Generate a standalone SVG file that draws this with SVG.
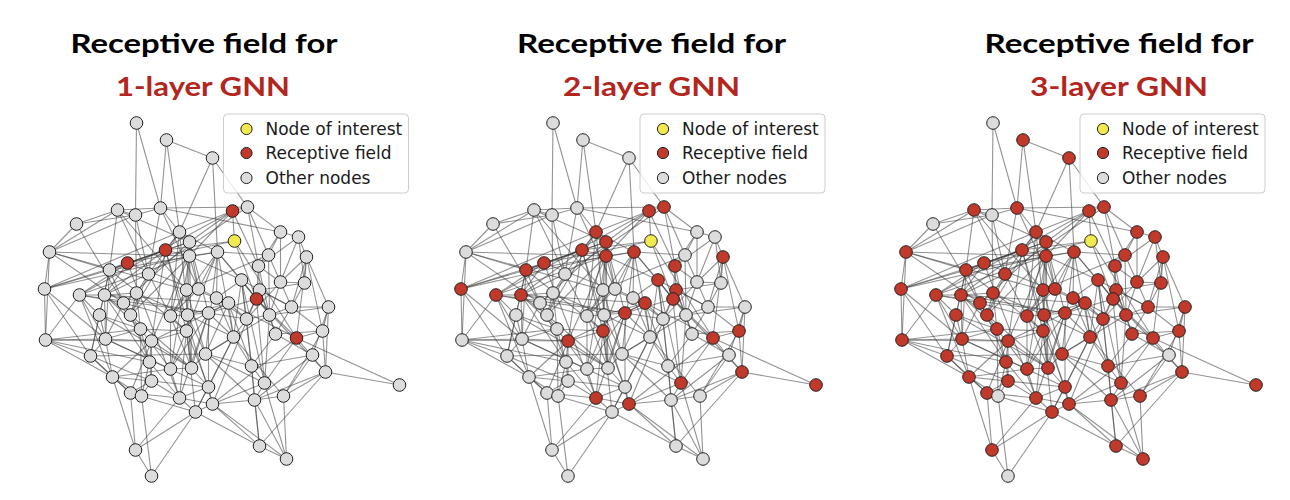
<svg xmlns="http://www.w3.org/2000/svg" xmlns:xlink="http://www.w3.org/1999/xlink" width="1290" height="500" viewBox="0 0 1290 500">
<style>
.t1{font-family:Lato,"Liberation Sans",sans-serif;font-weight:bold;font-size:27px;fill:#000;text-anchor:middle}
.t2{font-family:Lato,"Liberation Sans",sans-serif;font-weight:bold;font-size:27px;fill:#b3261e;text-anchor:middle}
.lg{font-family:"DejaVu Sans",sans-serif;font-size:17px;fill:#1a1a1a}
.g{fill:#dcdcdc;stroke:#222;stroke-width:1}
.r{fill:#c0392b;stroke:#222;stroke-width:1}
.y{fill:#f2e94e;stroke:#222;stroke-width:1}
.box{fill:#fff;fill-opacity:0.8;stroke:#cccccc;stroke-width:1}
</style>
<defs>
<g id="edges" fill="none" stroke="#3a3a3a" stroke-opacity="0.55" stroke-width="1.1">
<path d="M651 241 649 211"/><path d="M651 241 582 250"/><path d="M651 241 544 263"/><path d="M651 241 673 299"/><path d="M651 241 713 338"/>
<path d="M649 211 664 207"/><path d="M649 211 596 232"/><path d="M649 211 606 242"/><path d="M649 211 606 256"/><path d="M649 211 675 266"/><path d="M649 211 496 295"/>
<path d="M582 250 596 232"/><path d="M582 250 606 256"/><path d="M582 250 526 270"/><path d="M582 250 521 295"/><path d="M582 250 568 341"/><path d="M582 250 603 331"/><path d="M582 250 629 404"/>
<path d="M544 263 526 270"/><path d="M544 263 461 289"/><path d="M544 263 496 295"/><path d="M544 263 521 295"/><path d="M544 263 606 242"/><path d="M544 263 645 303"/><path d="M544 263 596 398"/>
<path d="M673 299 676 290"/><path d="M673 299 658 280"/><path d="M673 299 675 266"/><path d="M673 299 742 372"/><path d="M673 299 681 383"/><path d="M673 299 625 313"/><path d="M673 299 634 252"/>
<path d="M713 338 739 331"/><path d="M713 338 742 372"/><path d="M713 338 816 385"/><path d="M713 338 723 257"/><path d="M713 338 681 383"/><path d="M713 338 629 404"/><path d="M713 338 645 303"/>
<path d="M582 250 544 263"/><path d="M673 299 713 338"/>
<path d="M664 207 629 158"/><path d="M664 207 697 232"/><path d="M664 207 685 255"/><path d="M664 207 577 208"/>
<path d="M596 232 583 140"/><path d="M596 232 577 208"/><path d="M596 232 629 158"/><path d="M596 232 565 274"/><path d="M596 232 604 315"/><path d="M596 232 547 315"/>
<path d="M606 242 534 210"/><path d="M606 242 603 290"/><path d="M606 242 587 316"/><path d="M606 242 608 368"/>
<path d="M606 256 615 289"/><path d="M606 256 587 369"/><path d="M606 256 466 252"/>
<path d="M634 252 629 158"/><path d="M634 252 685 255"/><path d="M634 252 633 298"/><path d="M634 252 622 354"/><path d="M634 252 650 337"/>
<path d="M723 257 715 237"/><path d="M723 257 721 283"/><path d="M723 257 697 282"/><path d="M723 257 745 307"/>
<path d="M526 270 534 210"/><path d="M526 270 466 252"/><path d="M526 270 516 315"/><path d="M526 270 522 339"/>
<path d="M675 266 697 282"/><path d="M675 266 685 255"/><path d="M675 266 686 315"/><path d="M675 266 697 232"/>
<path d="M658 280 663 319"/><path d="M658 280 633 298"/><path d="M658 280 668 366"/><path d="M658 280 708 307"/>
<path d="M461 289 466 252"/><path d="M461 289 462 340"/><path d="M461 289 526 270"/><path d="M461 289 507 356"/>
<path d="M496 295 516 315"/><path d="M496 295 540 303"/><path d="M496 295 529 377"/>
<path d="M521 295 553 293"/><path d="M521 295 557 329"/><path d="M521 295 547 315"/><path d="M521 295 566 362"/>
<path d="M676 290 721 283"/><path d="M676 290 708 307"/><path d="M676 290 692 334"/><path d="M676 290 663 319"/>
<path d="M645 303 615 289"/><path d="M645 303 604 315"/><path d="M645 303 650 337"/><path d="M645 303 622 354"/>
<path d="M625 313 587 316"/><path d="M625 313 587 369"/><path d="M625 313 625 387"/><path d="M625 313 663 319"/>
<path d="M568 341 522 339"/><path d="M568 341 566 362"/><path d="M568 341 568 381"/><path d="M568 341 608 368"/><path d="M568 341 462 340"/>
<path d="M603 331 557 329"/><path d="M603 331 587 369"/><path d="M603 331 608 368"/><path d="M603 331 625 387"/><path d="M603 331 612 412"/>
<path d="M739 331 745 307"/><path d="M739 331 692 334"/><path d="M739 331 700 396"/>
<path d="M742 372 816 385"/><path d="M742 372 745 307"/><path d="M742 372 676 446"/><path d="M742 372 671 400"/>
<path d="M681 383 703 459"/><path d="M681 383 671 400"/><path d="M681 383 668 366"/><path d="M681 383 622 354"/>
<path d="M596 398 552 450"/><path d="M596 398 568 381"/><path d="M596 398 612 412"/><path d="M596 398 587 369"/><path d="M596 398 547 393"/>
<path d="M629 404 612 412"/><path d="M629 404 671 400"/><path d="M629 404 625 387"/>
<path d="M596 232 606 242"/><path d="M606 256 634 252"/><path d="M496 295 521 295"/><path d="M675 266 676 290"/><path d="M625 313 645 303"/><path d="M568 341 603 331"/><path d="M742 372 739 331"/><path d="M681 383 629 404"/><path d="M596 398 629 404"/><path d="M606 242 625 313"/><path d="M634 252 658 280"/><path d="M723 257 739 331"/><path d="M603 331 596 398"/><path d="M664 207 675 266"/>
<path d="M583 140 629 158"/><path d="M534 210 552 215"/><path d="M534 210 493 224"/><path d="M534 210 565 274"/><path d="M697 232 715 237"/><path d="M697 232 685 255"/><path d="M715 237 697 282"/><path d="M466 252 552 215"/><path d="M466 252 493 224"/><path d="M565 274 552 215"/><path d="M565 274 553 293"/><path d="M697 282 721 283"/><path d="M553 293 547 315"/><path d="M553 293 552 215"/><path d="M603 290 615 289"/><path d="M603 290 587 316"/><path d="M540 303 547 315"/><path d="M540 303 522 339"/><path d="M516 315 507 356"/><path d="M516 315 522 339"/><path d="M547 315 493 224"/><path d="M547 315 557 329"/><path d="M587 316 587 369"/><path d="M604 315 608 368"/><path d="M663 319 686 315"/><path d="M686 315 692 334"/><path d="M686 315 708 307"/><path d="M708 307 745 307"/><path d="M745 307 729 355"/><path d="M462 340 507 356"/><path d="M462 340 529 377"/><path d="M462 340 522 339"/><path d="M522 339 507 356"/><path d="M522 339 529 377"/><path d="M557 329 566 362"/><path d="M557 329 558 396"/><path d="M650 337 622 354"/><path d="M650 337 668 366"/><path d="M692 334 729 355"/><path d="M507 356 529 377"/><path d="M566 362 568 381"/><path d="M566 362 558 396"/><path d="M608 368 622 354"/><path d="M668 366 729 355"/><path d="M529 377 552 450"/><path d="M529 377 547 393"/><path d="M529 377 558 396"/><path d="M568 381 558 396"/><path d="M568 381 547 393"/><path d="M625 387 612 412"/><path d="M547 393 552 450"/><path d="M547 393 558 396"/><path d="M671 400 676 446"/><path d="M671 400 700 396"/><path d="M671 400 729 355"/><path d="M700 396 703 459"/><path d="M700 396 729 355"/><path d="M612 412 552 450"/><path d="M612 412 568 476"/><path d="M612 412 676 446"/><path d="M552 450 568 476"/><path d="M676 446 703 459"/><path d="M553 123 552 215"/><path d="M553 123 577 208"/><path d="M552 215 577 208"/><path d="M558 396 568 476"/><path d="M493 224 552 215"/><path d="M466 252 534 210"/>
<path d="M697 232 697 282"/><path d="M685 255 686 315"/><path d="M603 290 604 315"/><path d="M615 289 587 316"/><path d="M633 298 663 319"/><path d="M540 303 553 293"/><path d="M547 315 566 362"/><path d="M604 315 622 354"/><path d="M663 319 650 337"/><path d="M708 307 692 334"/><path d="M522 339 557 329"/><path d="M557 329 587 369"/><path d="M650 337 625 387"/><path d="M692 334 668 366"/><path d="M507 356 547 393"/><path d="M587 369 608 368"/><path d="M608 368 625 387"/><path d="M668 366 671 400"/><path d="M671 400 703 459"/><path d="M583 140 577 208"/><path d="M534 210 577 208"/><path d="M577 208 565 274"/><path d="M466 252 462 340"/><path d="M697 282 686 315"/><path d="M721 283 708 307"/><path d="M553 293 557 329"/><path d="M565 274 547 315"/><path d="M622 354 668 366"/><path d="M587 316 608 368"/><path d="M604 315 650 337"/>
<path d="M596 232 587 316"/><path d="M606 242 615 289"/><path d="M606 256 604 315"/><path d="M634 252 615 289"/><path d="M526 270 540 303"/><path d="M461 289 522 339"/><path d="M496 295 522 339"/><path d="M521 295 565 274"/><path d="M645 303 663 319"/><path d="M625 313 650 337"/><path d="M568 341 547 393"/><path d="M603 331 587 316"/><path d="M739 331 708 307"/><path d="M681 383 686 315"/><path d="M596 398 625 387"/><path d="M629 404 703 459"/><path d="M675 266 715 237"/><path d="M658 280 650 337"/><path d="M676 290 686 315"/><path d="M723 257 708 307"/>
<path d="M526 270 634 252"/><path d="M496 295 625 313"/><path d="M521 295 645 303"/><path d="M461 289 606 256"/><path d="M516 315 608 368"/><path d="M507 356 622 354"/><path d="M522 339 625 387"/><path d="M529 377 587 369"/><path d="M466 252 603 290"/><path d="M462 340 557 329"/><path d="M658 280 606 256"/><path d="M650 337 612 412"/><path d="M668 366 676 446"/><path d="M686 315 622 354"/><path d="M685 255 603 290"/><path d="M697 282 663 319"/><path d="M715 237 721 283"/><path d="M697 232 577 208"/>
<path d="M526 270 606 242"/><path d="M496 295 606 256"/><path d="M521 295 625 313"/><path d="M461 289 596 232"/><path d="M568 341 645 303"/><path d="M603 331 634 252"/><path d="M596 398 625 313"/><path d="M629 404 676 290"/><path d="M681 383 658 280"/><path d="M526 270 603 331"/><path d="M596 232 634 252"/><path d="M606 256 568 341"/>
<path d="M534 210 603 290"/><path d="M577 208 615 289"/><path d="M565 274 587 316"/><path d="M466 252 540 303"/><path d="M516 315 557 329"/><path d="M462 340 566 362"/><path d="M507 356 568 381"/><path d="M547 315 608 368"/><path d="M553 293 604 315"/><path d="M522 339 587 369"/><path d="M529 377 625 387"/><path d="M547 393 612 412"/><path d="M650 337 700 396"/><path d="M622 354 671 400"/><path d="M663 319 668 366"/><path d="M686 315 745 307"/><path d="M697 282 708 307"/><path d="M540 303 587 316"/><path d="M633 298 650 337"/><path d="M685 255 697 282"/><path d="M603 290 622 354"/>
<path d="M606 242 540 303"/><path d="M634 252 587 316"/><path d="M625 313 608 368"/><path d="M521 295 522 339"/><path d="M568 341 529 377"/><path d="M596 398 566 362"/><path d="M645 303 668 366"/><path d="M658 280 686 315"/><path d="M664 207 565 274"/><path d="M606 256 547 315"/><path d="M526 270 507 356"/><path d="M496 295 462 340"/><path d="M629 404 676 446"/><path d="M742 372 700 396"/>
</g>
<g id="legend">
<rect class="box" x="640" y="114" width="185" height="79" rx="4"/>
<circle class="y" cx="663" cy="129" r="5.6"/>
<circle class="r" cx="663" cy="153" r="5.6"/>
<circle class="g" cx="663" cy="178" r="5.6"/>
<text class="lg" x="682" y="134.5">Node of interest</text>
<text class="lg" x="682" y="158.5">Receptive field</text>
<text class="lg" x="682" y="183.5">Other nodes</text>
</g>
</defs>
<rect width="1290" height="500" fill="#fff"/>
<g id="titles">
<text class="t1" x="204" y="53" textLength="267" lengthAdjust="spacingAndGlyphs">Receptive field for</text>
<text class="t2" x="203" y="96" textLength="174" lengthAdjust="spacingAndGlyphs">1-layer GNN</text>
<text class="t1" x="651.5" y="53" textLength="269" lengthAdjust="spacingAndGlyphs">Receptive field for</text>
<text class="t2" x="651.5" y="96" textLength="177" lengthAdjust="spacingAndGlyphs">2-layer GNN</text>
<text class="t1" x="1119" y="53" textLength="269" lengthAdjust="spacingAndGlyphs">Receptive field for</text>
<text class="t2" x="1119" y="96" textLength="178" lengthAdjust="spacingAndGlyphs">3-layer GNN</text>
</g>
<g id="connectors">
<use xlink:href="#edges" href="#edges" transform="translate(-416.5 0)"/>
<use xlink:href="#edges" href="#edges"/>
<use xlink:href="#edges" href="#edges" transform="translate(440 0)"/>
</g>
<g id="panel1" transform="translate(-416.5 0)">
<g id="p1-n1"><circle class="g" cx="553" cy="123" r="6.3"/></g><g id="p1-n2"><circle class="g" cx="583" cy="140" r="6.3"/></g><g id="p1-n3"><circle class="g" cx="629" cy="158" r="6.3"/></g><g id="p1-n4"><circle class="g" cx="534" cy="210" r="6.3"/></g><g id="p1-n5"><circle class="g" cx="552" cy="215" r="6.3"/></g><g id="p1-n6"><circle class="g" cx="577" cy="208" r="6.3"/></g><g id="p1-n7"><circle class="g" cx="493" cy="224" r="6.3"/></g><g id="p1-n8"><circle class="r" cx="649" cy="211" r="6.3"/></g><g id="p1-n9"><circle class="g" cx="664" cy="207" r="6.3"/></g><g id="p1-n10"><circle class="g" cx="596" cy="232" r="6.3"/></g>
<g id="p1-n11"><circle class="g" cx="606" cy="242" r="6.3"/></g><g id="p1-n12"><circle class="r" cx="582" cy="250" r="6.3"/></g><g id="p1-n13"><circle class="g" cx="606" cy="256" r="6.3"/></g><g id="p1-n14"><circle class="g" cx="634" cy="252" r="6.3"/></g><g id="p1-n15"><circle class="y" cx="651" cy="241" r="6.3"/></g><g id="p1-n16"><circle class="g" cx="697" cy="232" r="6.3"/></g><g id="p1-n17"><circle class="g" cx="715" cy="237" r="6.3"/></g><g id="p1-n18"><circle class="g" cx="685" cy="255" r="6.3"/></g><g id="p1-n19"><circle class="g" cx="723" cy="257" r="6.3"/></g><g id="p1-n20"><circle class="g" cx="466" cy="252" r="6.3"/></g>
<g id="p1-n21"><circle class="r" cx="544" cy="263" r="6.3"/></g><g id="p1-n22"><circle class="g" cx="526" cy="270" r="6.3"/></g><g id="p1-n23"><circle class="g" cx="565" cy="274" r="6.3"/></g><g id="p1-n24"><circle class="g" cx="675" cy="266" r="6.3"/></g><g id="p1-n25"><circle class="g" cx="658" cy="280" r="6.3"/></g><g id="p1-n26"><circle class="g" cx="697" cy="282" r="6.3"/></g><g id="p1-n27"><circle class="g" cx="721" cy="283" r="6.3"/></g><g id="p1-n28"><circle class="g" cx="461" cy="289" r="6.3"/></g><g id="p1-n29"><circle class="g" cx="496" cy="295" r="6.3"/></g><g id="p1-n30"><circle class="g" cx="521" cy="295" r="6.3"/></g>
<g id="p1-n31"><circle class="g" cx="553" cy="293" r="6.3"/></g><g id="p1-n32"><circle class="g" cx="603" cy="290" r="6.3"/></g><g id="p1-n33"><circle class="g" cx="615" cy="289" r="6.3"/></g><g id="p1-n34"><circle class="g" cx="633" cy="298" r="6.3"/></g><g id="p1-n35"><circle class="g" cx="676" cy="290" r="6.3"/></g><g id="p1-n36"><circle class="r" cx="673" cy="299" r="6.3"/></g><g id="p1-n37"><circle class="g" cx="645" cy="303" r="6.3"/></g><g id="p1-n38"><circle class="g" cx="540" cy="303" r="6.3"/></g><g id="p1-n39"><circle class="g" cx="516" cy="315" r="6.3"/></g><g id="p1-n40"><circle class="g" cx="547" cy="315" r="6.3"/></g>
<g id="p1-n41"><circle class="g" cx="587" cy="316" r="6.3"/></g><g id="p1-n42"><circle class="g" cx="604" cy="315" r="6.3"/></g><g id="p1-n43"><circle class="g" cx="625" cy="313" r="6.3"/></g><g id="p1-n44"><circle class="g" cx="663" cy="319" r="6.3"/></g><g id="p1-n45"><circle class="g" cx="686" cy="315" r="6.3"/></g><g id="p1-n46"><circle class="g" cx="708" cy="307" r="6.3"/></g><g id="p1-n47"><circle class="g" cx="745" cy="307" r="6.3"/></g><g id="p1-n48"><circle class="g" cx="462" cy="340" r="6.3"/></g><g id="p1-n49"><circle class="g" cx="522" cy="339" r="6.3"/></g><g id="p1-n50"><circle class="g" cx="557" cy="329" r="6.3"/></g>
<g id="p1-n51"><circle class="g" cx="568" cy="341" r="6.3"/></g><g id="p1-n52"><circle class="g" cx="603" cy="331" r="6.3"/></g><g id="p1-n53"><circle class="g" cx="650" cy="337" r="6.3"/></g><g id="p1-n54"><circle class="g" cx="692" cy="334" r="6.3"/></g><g id="p1-n55"><circle class="r" cx="713" cy="338" r="6.3"/></g><g id="p1-n56"><circle class="g" cx="739" cy="331" r="6.3"/></g><g id="p1-n57"><circle class="g" cx="507" cy="356" r="6.3"/></g><g id="p1-n58"><circle class="g" cx="566" cy="362" r="6.3"/></g><g id="p1-n59"><circle class="g" cx="587" cy="369" r="6.3"/></g><g id="p1-n60"><circle class="g" cx="608" cy="368" r="6.3"/></g>
<g id="p1-n61"><circle class="g" cx="622" cy="354" r="6.3"/></g><g id="p1-n62"><circle class="g" cx="668" cy="366" r="6.3"/></g><g id="p1-n63"><circle class="g" cx="729" cy="355" r="6.3"/></g><g id="p1-n64"><circle class="g" cx="742" cy="372" r="6.3"/></g><g id="p1-n65"><circle class="g" cx="816" cy="385" r="6.3"/></g><g id="p1-n66"><circle class="g" cx="529" cy="377" r="6.3"/></g><g id="p1-n67"><circle class="g" cx="568" cy="381" r="6.3"/></g><g id="p1-n68"><circle class="g" cx="625" cy="387" r="6.3"/></g><g id="p1-n69"><circle class="g" cx="681" cy="383" r="6.3"/></g><g id="p1-n70"><circle class="g" cx="547" cy="393" r="6.3"/></g>
<g id="p1-n71"><circle class="g" cx="558" cy="396" r="6.3"/></g><g id="p1-n72"><circle class="g" cx="596" cy="398" r="6.3"/></g><g id="p1-n73"><circle class="g" cx="629" cy="404" r="6.3"/></g><g id="p1-n74"><circle class="g" cx="671" cy="400" r="6.3"/></g><g id="p1-n75"><circle class="g" cx="700" cy="396" r="6.3"/></g><g id="p1-n76"><circle class="g" cx="612" cy="412" r="6.3"/></g><g id="p1-n77"><circle class="g" cx="552" cy="450" r="6.3"/></g><g id="p1-n78"><circle class="g" cx="568" cy="476" r="6.3"/></g><g id="p1-n79"><circle class="g" cx="676" cy="446" r="6.3"/></g><g id="p1-n80"><circle class="g" cx="703" cy="459" r="6.3"/></g>
<use xlink:href="#legend" href="#legend"/>
</g>
<g id="panel2">
<g id="p2-n1"><circle class="g" cx="553" cy="123" r="6.3"/></g><g id="p2-n2"><circle class="g" cx="583" cy="140" r="6.3"/></g><g id="p2-n3"><circle class="g" cx="629" cy="158" r="6.3"/></g><g id="p2-n4"><circle class="g" cx="534" cy="210" r="6.3"/></g><g id="p2-n5"><circle class="g" cx="552" cy="215" r="6.3"/></g><g id="p2-n6"><circle class="g" cx="577" cy="208" r="6.3"/></g><g id="p2-n7"><circle class="g" cx="493" cy="224" r="6.3"/></g><g id="p2-n8"><circle class="r" cx="649" cy="211" r="6.3"/></g><g id="p2-n9"><circle class="r" cx="664" cy="207" r="6.3"/></g><g id="p2-n10"><circle class="r" cx="596" cy="232" r="6.3"/></g>
<g id="p2-n11"><circle class="r" cx="606" cy="242" r="6.3"/></g><g id="p2-n12"><circle class="r" cx="582" cy="250" r="6.3"/></g><g id="p2-n13"><circle class="r" cx="606" cy="256" r="6.3"/></g><g id="p2-n14"><circle class="r" cx="634" cy="252" r="6.3"/></g><g id="p2-n15"><circle class="y" cx="651" cy="241" r="6.3"/></g><g id="p2-n16"><circle class="g" cx="697" cy="232" r="6.3"/></g><g id="p2-n17"><circle class="g" cx="715" cy="237" r="6.3"/></g><g id="p2-n18"><circle class="g" cx="685" cy="255" r="6.3"/></g><g id="p2-n19"><circle class="r" cx="723" cy="257" r="6.3"/></g><g id="p2-n20"><circle class="g" cx="466" cy="252" r="6.3"/></g>
<g id="p2-n21"><circle class="r" cx="544" cy="263" r="6.3"/></g><g id="p2-n22"><circle class="r" cx="526" cy="270" r="6.3"/></g><g id="p2-n23"><circle class="g" cx="565" cy="274" r="6.3"/></g><g id="p2-n24"><circle class="r" cx="675" cy="266" r="6.3"/></g><g id="p2-n25"><circle class="r" cx="658" cy="280" r="6.3"/></g><g id="p2-n26"><circle class="g" cx="697" cy="282" r="6.3"/></g><g id="p2-n27"><circle class="g" cx="721" cy="283" r="6.3"/></g><g id="p2-n28"><circle class="r" cx="461" cy="289" r="6.3"/></g><g id="p2-n29"><circle class="r" cx="496" cy="295" r="6.3"/></g><g id="p2-n30"><circle class="r" cx="521" cy="295" r="6.3"/></g>
<g id="p2-n31"><circle class="g" cx="553" cy="293" r="6.3"/></g><g id="p2-n32"><circle class="g" cx="603" cy="290" r="6.3"/></g><g id="p2-n33"><circle class="g" cx="615" cy="289" r="6.3"/></g><g id="p2-n34"><circle class="g" cx="633" cy="298" r="6.3"/></g><g id="p2-n35"><circle class="r" cx="676" cy="290" r="6.3"/></g><g id="p2-n36"><circle class="r" cx="673" cy="299" r="6.3"/></g><g id="p2-n37"><circle class="r" cx="645" cy="303" r="6.3"/></g><g id="p2-n38"><circle class="g" cx="540" cy="303" r="6.3"/></g><g id="p2-n39"><circle class="g" cx="516" cy="315" r="6.3"/></g><g id="p2-n40"><circle class="g" cx="547" cy="315" r="6.3"/></g>
<g id="p2-n41"><circle class="g" cx="587" cy="316" r="6.3"/></g><g id="p2-n42"><circle class="g" cx="604" cy="315" r="6.3"/></g><g id="p2-n43"><circle class="r" cx="625" cy="313" r="6.3"/></g><g id="p2-n44"><circle class="g" cx="663" cy="319" r="6.3"/></g><g id="p2-n45"><circle class="g" cx="686" cy="315" r="6.3"/></g><g id="p2-n46"><circle class="g" cx="708" cy="307" r="6.3"/></g><g id="p2-n47"><circle class="g" cx="745" cy="307" r="6.3"/></g><g id="p2-n48"><circle class="g" cx="462" cy="340" r="6.3"/></g><g id="p2-n49"><circle class="g" cx="522" cy="339" r="6.3"/></g><g id="p2-n50"><circle class="g" cx="557" cy="329" r="6.3"/></g>
<g id="p2-n51"><circle class="r" cx="568" cy="341" r="6.3"/></g><g id="p2-n52"><circle class="r" cx="603" cy="331" r="6.3"/></g><g id="p2-n53"><circle class="g" cx="650" cy="337" r="6.3"/></g><g id="p2-n54"><circle class="g" cx="692" cy="334" r="6.3"/></g><g id="p2-n55"><circle class="r" cx="713" cy="338" r="6.3"/></g><g id="p2-n56"><circle class="r" cx="739" cy="331" r="6.3"/></g><g id="p2-n57"><circle class="g" cx="507" cy="356" r="6.3"/></g><g id="p2-n58"><circle class="g" cx="566" cy="362" r="6.3"/></g><g id="p2-n59"><circle class="g" cx="587" cy="369" r="6.3"/></g><g id="p2-n60"><circle class="g" cx="608" cy="368" r="6.3"/></g>
<g id="p2-n61"><circle class="g" cx="622" cy="354" r="6.3"/></g><g id="p2-n62"><circle class="g" cx="668" cy="366" r="6.3"/></g><g id="p2-n63"><circle class="g" cx="729" cy="355" r="6.3"/></g><g id="p2-n64"><circle class="r" cx="742" cy="372" r="6.3"/></g><g id="p2-n65"><circle class="r" cx="816" cy="385" r="6.3"/></g><g id="p2-n66"><circle class="g" cx="529" cy="377" r="6.3"/></g><g id="p2-n67"><circle class="g" cx="568" cy="381" r="6.3"/></g><g id="p2-n68"><circle class="g" cx="625" cy="387" r="6.3"/></g><g id="p2-n69"><circle class="r" cx="681" cy="383" r="6.3"/></g><g id="p2-n70"><circle class="g" cx="547" cy="393" r="6.3"/></g>
<g id="p2-n71"><circle class="g" cx="558" cy="396" r="6.3"/></g><g id="p2-n72"><circle class="r" cx="596" cy="398" r="6.3"/></g><g id="p2-n73"><circle class="r" cx="629" cy="404" r="6.3"/></g><g id="p2-n74"><circle class="g" cx="671" cy="400" r="6.3"/></g><g id="p2-n75"><circle class="g" cx="700" cy="396" r="6.3"/></g><g id="p2-n76"><circle class="g" cx="612" cy="412" r="6.3"/></g><g id="p2-n77"><circle class="g" cx="552" cy="450" r="6.3"/></g><g id="p2-n78"><circle class="g" cx="568" cy="476" r="6.3"/></g><g id="p2-n79"><circle class="g" cx="676" cy="446" r="6.3"/></g><g id="p2-n80"><circle class="g" cx="703" cy="459" r="6.3"/></g>
<use xlink:href="#legend" href="#legend"/>
</g>
<g id="panel3" transform="translate(440 0)">
<g id="p3-n1"><circle class="g" cx="553" cy="123" r="6.3"/></g><g id="p3-n2"><circle class="r" cx="583" cy="140" r="6.3"/></g><g id="p3-n3"><circle class="r" cx="629" cy="158" r="6.3"/></g><g id="p3-n4"><circle class="r" cx="534" cy="210" r="6.3"/></g><g id="p3-n5"><circle class="g" cx="552" cy="215" r="6.3"/></g><g id="p3-n6"><circle class="r" cx="577" cy="208" r="6.3"/></g><g id="p3-n7"><circle class="g" cx="493" cy="224" r="6.3"/></g><g id="p3-n8"><circle class="r" cx="649" cy="211" r="6.3"/></g><g id="p3-n9"><circle class="r" cx="664" cy="207" r="6.3"/></g><g id="p3-n10"><circle class="r" cx="596" cy="232" r="6.3"/></g>
<g id="p3-n11"><circle class="r" cx="606" cy="242" r="6.3"/></g><g id="p3-n12"><circle class="r" cx="582" cy="250" r="6.3"/></g><g id="p3-n13"><circle class="r" cx="606" cy="256" r="6.3"/></g><g id="p3-n14"><circle class="r" cx="634" cy="252" r="6.3"/></g><g id="p3-n15"><circle class="y" cx="651" cy="241" r="6.3"/></g><g id="p3-n16"><circle class="r" cx="697" cy="232" r="6.3"/></g><g id="p3-n17"><circle class="r" cx="715" cy="237" r="6.3"/></g><g id="p3-n18"><circle class="r" cx="685" cy="255" r="6.3"/></g><g id="p3-n19"><circle class="r" cx="723" cy="257" r="6.3"/></g><g id="p3-n20"><circle class="r" cx="466" cy="252" r="6.3"/></g>
<g id="p3-n21"><circle class="r" cx="544" cy="263" r="6.3"/></g><g id="p3-n22"><circle class="r" cx="526" cy="270" r="6.3"/></g><g id="p3-n23"><circle class="r" cx="565" cy="274" r="6.3"/></g><g id="p3-n24"><circle class="r" cx="675" cy="266" r="6.3"/></g><g id="p3-n25"><circle class="r" cx="658" cy="280" r="6.3"/></g><g id="p3-n26"><circle class="r" cx="697" cy="282" r="6.3"/></g><g id="p3-n27"><circle class="r" cx="721" cy="283" r="6.3"/></g><g id="p3-n28"><circle class="r" cx="461" cy="289" r="6.3"/></g><g id="p3-n29"><circle class="r" cx="496" cy="295" r="6.3"/></g><g id="p3-n30"><circle class="r" cx="521" cy="295" r="6.3"/></g>
<g id="p3-n31"><circle class="r" cx="553" cy="293" r="6.3"/></g><g id="p3-n32"><circle class="r" cx="603" cy="290" r="6.3"/></g><g id="p3-n33"><circle class="r" cx="615" cy="289" r="6.3"/></g><g id="p3-n34"><circle class="r" cx="633" cy="298" r="6.3"/></g><g id="p3-n35"><circle class="r" cx="676" cy="290" r="6.3"/></g><g id="p3-n36"><circle class="r" cx="673" cy="299" r="6.3"/></g><g id="p3-n37"><circle class="r" cx="645" cy="303" r="6.3"/></g><g id="p3-n38"><circle class="r" cx="540" cy="303" r="6.3"/></g><g id="p3-n39"><circle class="r" cx="516" cy="315" r="6.3"/></g><g id="p3-n40"><circle class="r" cx="547" cy="315" r="6.3"/></g>
<g id="p3-n41"><circle class="r" cx="587" cy="316" r="6.3"/></g><g id="p3-n42"><circle class="r" cx="604" cy="315" r="6.3"/></g><g id="p3-n43"><circle class="r" cx="625" cy="313" r="6.3"/></g><g id="p3-n44"><circle class="r" cx="663" cy="319" r="6.3"/></g><g id="p3-n45"><circle class="r" cx="686" cy="315" r="6.3"/></g><g id="p3-n46"><circle class="r" cx="708" cy="307" r="6.3"/></g><g id="p3-n47"><circle class="r" cx="745" cy="307" r="6.3"/></g><g id="p3-n48"><circle class="r" cx="462" cy="340" r="6.3"/></g><g id="p3-n49"><circle class="r" cx="522" cy="339" r="6.3"/></g><g id="p3-n50"><circle class="r" cx="557" cy="329" r="6.3"/></g>
<g id="p3-n51"><circle class="r" cx="568" cy="341" r="6.3"/></g><g id="p3-n52"><circle class="r" cx="603" cy="331" r="6.3"/></g><g id="p3-n53"><circle class="r" cx="650" cy="337" r="6.3"/></g><g id="p3-n54"><circle class="r" cx="692" cy="334" r="6.3"/></g><g id="p3-n55"><circle class="r" cx="713" cy="338" r="6.3"/></g><g id="p3-n56"><circle class="r" cx="739" cy="331" r="6.3"/></g><g id="p3-n57"><circle class="r" cx="507" cy="356" r="6.3"/></g><g id="p3-n58"><circle class="r" cx="566" cy="362" r="6.3"/></g><g id="p3-n59"><circle class="r" cx="587" cy="369" r="6.3"/></g><g id="p3-n60"><circle class="r" cx="608" cy="368" r="6.3"/></g>
<g id="p3-n61"><circle class="r" cx="622" cy="354" r="6.3"/></g><g id="p3-n62"><circle class="r" cx="668" cy="366" r="6.3"/></g><g id="p3-n63"><circle class="g" cx="729" cy="355" r="6.3"/></g><g id="p3-n64"><circle class="r" cx="742" cy="372" r="6.3"/></g><g id="p3-n65"><circle class="r" cx="816" cy="385" r="6.3"/></g><g id="p3-n66"><circle class="r" cx="529" cy="377" r="6.3"/></g><g id="p3-n67"><circle class="r" cx="568" cy="381" r="6.3"/></g><g id="p3-n68"><circle class="r" cx="625" cy="387" r="6.3"/></g><g id="p3-n69"><circle class="r" cx="681" cy="383" r="6.3"/></g><g id="p3-n70"><circle class="r" cx="547" cy="393" r="6.3"/></g>
<g id="p3-n71"><circle class="g" cx="558" cy="396" r="6.3"/></g><g id="p3-n72"><circle class="r" cx="596" cy="398" r="6.3"/></g><g id="p3-n73"><circle class="r" cx="629" cy="404" r="6.3"/></g><g id="p3-n74"><circle class="r" cx="671" cy="400" r="6.3"/></g><g id="p3-n75"><circle class="r" cx="700" cy="396" r="6.3"/></g><g id="p3-n76"><circle class="r" cx="612" cy="412" r="6.3"/></g><g id="p3-n77"><circle class="r" cx="552" cy="450" r="6.3"/></g><g id="p3-n78"><circle class="g" cx="568" cy="476" r="6.3"/></g><g id="p3-n79"><circle class="r" cx="676" cy="446" r="6.3"/></g><g id="p3-n80"><circle class="r" cx="703" cy="459" r="6.3"/></g>
<use xlink:href="#legend" href="#legend"/>
</g>
</svg>
